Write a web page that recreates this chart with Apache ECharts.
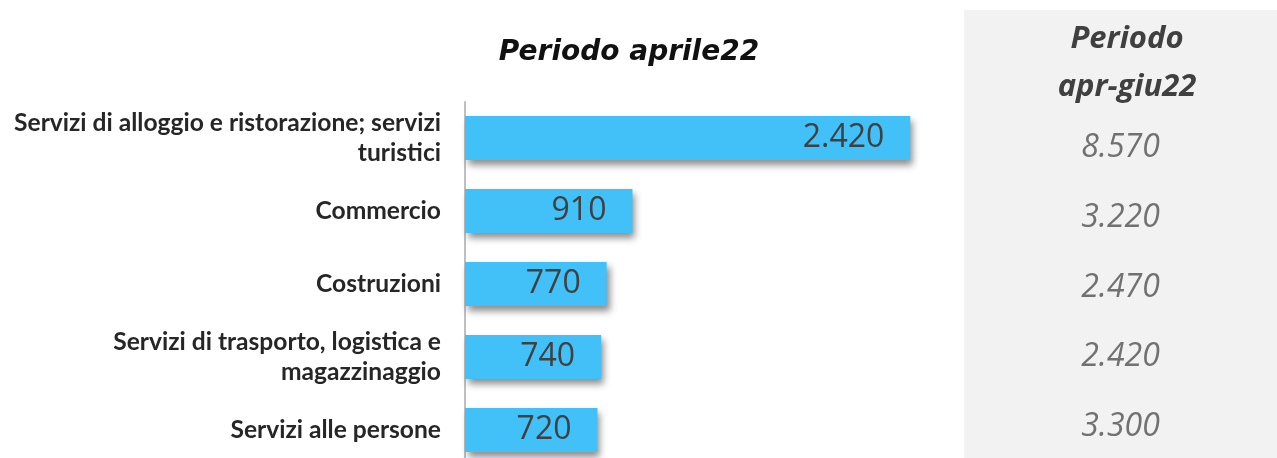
<!DOCTYPE html>
<html>
<head>
<meta charset="utf-8">
<script src="https://cdn.jsdelivr.net/npm/echarts@6/dist/echarts.min.js"></script>
<style>
  html, body { margin: 0; padding: 0; background: #fff; }
  #chart { width: 1277px; height: 458px; }
</style>
</head>
<body>
<div id="chart"></div>
<script>
// categorie (dall'alto verso il basso)
var categories = [
	'Servizi di alloggio e ristorazione; servizi\nturistici',
	'Commercio',
	'Costruzioni',
	'Servizi di trasporto, logistica e\nmagazzinaggio',
	'Servizi alle persone'
];
var aprile22 = [2420, 910, 770, 740, 720];
var aprGiu22 = [8570, 3220, 2470, 2420, 3300];

// separatore migliaia all'italiana
function fmt(v) {
	return String(v).replace(/\B(?=(\d{3})+(?!\d))/g, '.');
}

var myChart = echarts.init(document.getElementById('chart'));

var option = {
	animation: false,
	title: [
		{
			text: 'Periodo aprile22',
			left: 624, top: 34, textAlign: 'center',
			textStyle: { fontFamily: 'DejaVu Sans', fontStyle: 'italic', fontWeight: 'bold', fontSize: 28, color: '#111' }
		},
		{
			text: 'Periodo\napr-giu22',
			left: 1122, top: 10, textAlign: 'center',
			textStyle: { fontFamily: 'Open Sans', fontStyle: 'italic', fontWeight: 'bold', fontSize: 31, lineHeight: 48, color: '#404040' }
		}
	],
	graphic: [
		{ type: 'rect', z: -10, shape: { x: 964, y: 10, width: 313, height: 448 }, style: { fill: '#f2f2f2' } }
	],
	grid: [
		// barre: centri delle categorie ai bordi (boundaryGap false)
		{ left: 465, top: 138, width: 552, height: 292 },
		// colonna destra
		{ left: 964, top: 148, width: 313, height: 279 },
		// solo per la linea dell'asse verticale
		{ left: 465, top: 102, width: 552, bottom: 0 }
	],
	xAxis: [
		{ gridIndex: 0, type: 'value', min: 0, max: 3000, show: false },
		{ gridIndex: 1, type: 'value', min: 0, max: 100, show: false },
		{ gridIndex: 2, type: 'value', min: 0, max: 1, show: false }
	],
	yAxis: [
		{
			gridIndex: 0, type: 'category', data: categories, inverse: true, boundaryGap: false,
			axisLine: { show: false },
			axisTick: { show: false },
			axisLabel: {
				margin: 24, align: 'right',
				fontFamily: 'Lato', fontWeight: 'bold', fontSize: 24.6, lineHeight: 30, color: '#262626'
			}
		},
		{
			gridIndex: 1, type: 'category', data: categories, inverse: true, boundaryGap: false, show: false
		},
		{
			gridIndex: 2, type: 'value', min: 0, max: 1,
			axisLine: { show: true, lineStyle: { color: '#bfbfbf', width: 2 } },
			axisTick: { show: false }, axisLabel: { show: false }, splitLine: { show: false }
		}
	],
	series: [
		{
			name: 'aprile22',
			type: 'bar',
			xAxisIndex: 0, yAxisIndex: 0,
			data: aprile22,
			barWidth: 44,
			itemStyle: {
				color: '#42c0f8',
				shadowColor: 'rgba(0,0,0,0.45)',
				shadowBlur: 7,
				shadowOffsetX: 3,
				shadowOffsetY: 5
			},
			label: {
				show: true,
				position: 'insideRight',
				distance: 26,
				formatter: function (p) { return fmt(p.value); },
				fontFamily: 'Open Sans', fontSize: 32, color: '#404040'
			}
		},
		{
			name: 'apr-giu22',
			type: 'scatter',
			xAxisIndex: 1, yAxisIndex: 1,
			symbolSize: 0,
			data: aprGiu22.map(function (v, i) { return { value: [50, i], raw: v }; }),
			label: {
				show: true,
				position: 'inside',
				formatter: function (p) { return fmt(p.data.raw); },
				fontFamily: 'Open Sans', fontStyle: 'italic', fontSize: 32, color: '#505050'
			}
		}
	]
};

myChart.setOption(option);
</script>
</body>
</html>
